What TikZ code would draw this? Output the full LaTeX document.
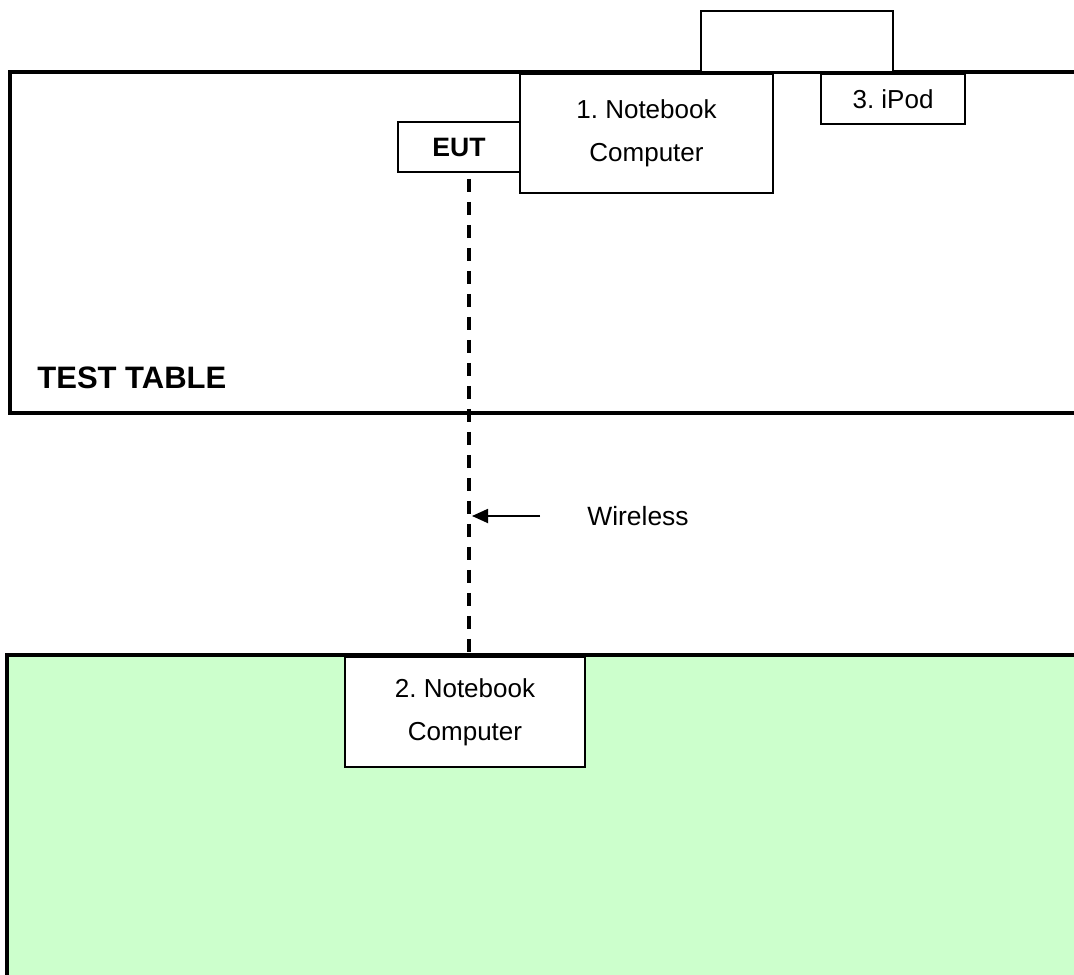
\documentclass[tikz,border=0pt]{standalone}
\usepackage{fontspec}
\setmainfont{Liberation Sans}
\usepackage{tikz}
\usetikzlibrary{calc}
\usetikzlibrary{arrows.meta}
\definecolor{bench}{HTML}{CCFFCC}
\tikzstyle{device} = [draw,fill=white,line width=0.8pt,align=center,inner sep=0pt,
	font=\fontsize{13}{21.5}\selectfont\frenchspacing]
\tikzstyle{tableedge} = [draw,line width=2pt]
\tikzstyle{link} = [line width=1.8pt,dash pattern=on 6.5pt off 5pt,dash phase=-3pt]

\begin{document}
\begin{tikzpicture}[x=0.5pt,y=-0.5pt,>={Triangle[length=8pt,width=7pt]}]
   \useasboundingbox (0,0) rectangle (1074,974);
   \clip (0,0) rectangle (1074,974);
   % table top and the bench underneath
   \draw[tableedge] (10,72) rectangle (1100,413);
   \draw[tableedge,fill=bench] (7,655) rectangle (1100,1000);
   \node[anchor=base west,inner sep=0pt,font=\fontsize{15.5}{18}\selectfont\bfseries] (tt) at (37,388) {TEST TABLE};

   % devices
   \node[device,minimum width=96pt,minimum height=30.5pt] (stand) at (797,41.5) {};
   \node[device,minimum width=61pt,minimum height=25pt,font=\fontsize{13.3}{16}\selectfont\bfseries] (eut) at (459,147) {EUT};
   \node[device,minimum width=126.5pt,minimum height=59.5pt] (nb1) at (646.5,133.5) {1. Notebook\\Computer};
   \node[device,minimum width=72pt,minimum height=25pt] (ipod) at (893,99) {3. iPod};
   \node[device,minimum width=120pt,minimum height=55pt] (nb2) at (465,712) {2. Notebook\\Computer};

   % radio link
   \draw[link] ([xshift=5pt]eut.south) -- ([xshift=5pt]eut.south |- nb2.north);
   \node[anchor=west,inner sep=0pt,font=\fontsize{13.2}{16}\selectfont] (wl) at (587,516) {Wireless};
   \coordinate (tail) at (540,516);
   \draw[->,line width=0.9pt] (tail) -- ([xshift=6.5pt]eut.south |- wl.west);
\end{tikzpicture}
\end{document}
